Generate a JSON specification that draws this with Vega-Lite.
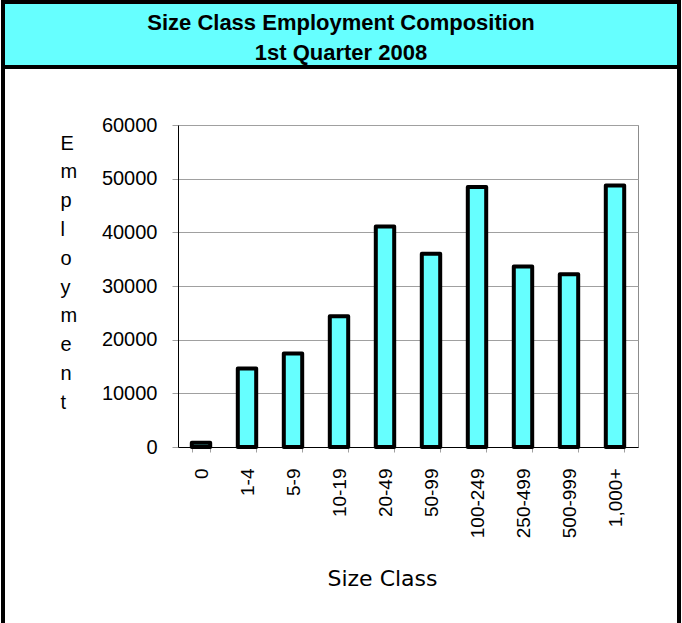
{
  "$schema": "https://vega.github.io/schema/vega-lite/v6.json",
  "background": "white",
  "padding": {"left": 1, "top": 0, "right": 0, "bottom": 0},
  "spacing": -4,
  "align": "none",
  "hconcat": [
    {
      "width": 4,
      "height": 700,
      "data": {"values": []},
      "mark": "point",
      "view": {"fill": "black", "stroke": null}
    },
    {
      "spacing": 45,
      "align": "none",
      "vconcat": [
        {
          "width": 676,
          "height": 65,
          "view": {"fill": "#66FFFF", "stroke": "black", "strokeWidth": 4},
          "data": {
            "values": [
              {"line": "Size Class Employment Composition", "row": 1},
              {"line": "1st Quarter 2008", "row": 2}
            ]
          },
          "mark": {
            "type": "text",
            "font": "Liberation Sans",
            "fontWeight": "bold",
            "fontSize": 22,
            "baseline": "middle",
            "color": "black"
          },
          "encoding": {
            "text": {"field": "line", "type": "nominal"},
            "y": {
              "field": "row",
              "type": "ordinal",
              "axis": null,
              "scale": {"type": "point", "padding": 0.5833, "align": 0.6}
            }
          }
        },
        {
          "spacing": 55,
          "align": "none",
          "hconcat": [
            {
              "width": 1,
              "height": 1,
              "data": {"values": []},
              "mark": "point",
              "view": {"fill": null, "stroke": null}
            },
            {
              "width": 460,
              "height": 322,
              "view": {"stroke": "#8c8c8c", "strokeWidth": 1, "fill": "white"},
              "data": {
                "values": [
                  {"size": "0", "employment": 800},
                  {"size": "1-4", "employment": 14650},
                  {"size": "5-9", "employment": 17400},
                  {"size": "10-19", "employment": 24350},
                  {"size": "20-49", "employment": 41100},
                  {"size": "50-99", "employment": 36000},
                  {"size": "100-249", "employment": 48450},
                  {"size": "250-499", "employment": 33650},
                  {"size": "500-999", "employment": 32200},
                  {"size": "1,000+", "employment": 48750}
                ]
              },
              "mark": {
                "type": "bar",
                "fill": "#66FFFF",
                "stroke": "black",
                "strokeWidth": 4,
                "strokeJoin": "round"
              },
              "encoding": {
                "x": {
                  "field": "size",
                  "type": "nominal",
                  "sort": null,
                  "scale": {"paddingInner": 0.6, "paddingOuter": 0.3},
                  "axis": {
                    "title": "Size Class",
                    "labelAngle": -90,
                    "labelFont": "Liberation Sans",
                    "labelFontSize": 19,
                    "labelColor": "black",
                    "labelPadding": 16,
                    "tickBand": "extent",
                    "tickSize": 5,
                    "tickColor": "#a0a0a0",
                    "domainColor": "black",
                    "grid": false,
                    "titleFont": "DejaVu Sans",
                    "titleFontSize": 22,
                    "titleFontWeight": "normal",
                    "titleColor": "black",
                    "titleX": 204,
                    "titleY": 138,
                    "titleBaseline": "alphabetic"
                  }
                },
                "y": {
                  "field": "employment",
                  "type": "quantitative",
                  "scale": {"domain": [0, 60000], "nice": false},
                  "axis": {
                    "values": [0, 10000, 20000, 30000, 40000, 50000, 60000],
                    "format": "d",
                    "labelFont": "Liberation Sans",
                    "labelFontSize": 20,
                    "labelColor": "black",
                    "labelPadding": 15,
                    "tickSize": 6,
                    "tickColor": "#a0a0a0",
                    "domainColor": "black",
                    "gridColor": "#a0a0a0",
                    "title": ["E", "m", "p", "l", "o", "y", "m", "e", "n", "t"],
                    "titleAngle": 0,
                    "titleAlign": "left",
                    "titleBaseline": "top",
                    "titleX": -118,
                    "titleY": 8,
                    "titleFont": "Liberation Sans",
                    "titleFontSize": 20,
                    "titleFontWeight": "normal",
                    "titleLineHeight": 28.8,
                    "titleColor": "black"
                  }
                }
              }
            }
          ]
        }
      ]
    },
    {
      "width": 4,
      "height": 700,
      "data": {"values": []},
      "mark": "point",
      "view": {"fill": "black", "stroke": null}
    }
  ]
}
